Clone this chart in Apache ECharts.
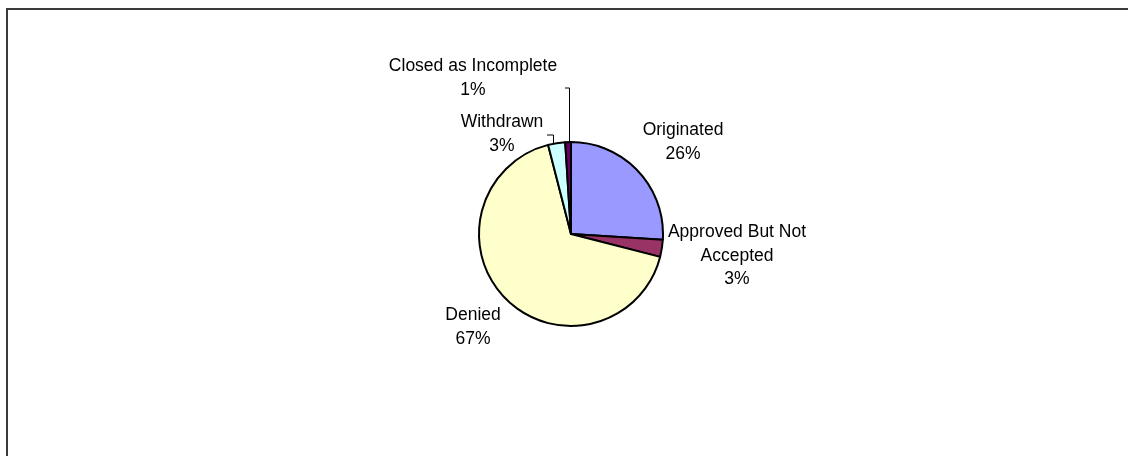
<!DOCTYPE html>
<html>
<head>
<meta charset="utf-8">
<style>
  html, body { margin: 0; padding: 0; background: #fff; }
  #chart { width: 1128px; height: 456px; }
</style>
<script src="https://cdn.jsdelivr.net/npm/echarts@6/dist/echarts.min.js"></script>
</head>
<body>
<div id="chart"></div>
<script>
// Application outcomes, in percent, clockwise from 12 o'clock
const categories = ['Originated', 'Approved But Not\nAccepted', 'Denied', 'Withdrawn', 'Closed as Incomplete'];
const shares = [26, 3, 67, 3, 1];
const sliceColors = ['#9999FF', '#993366', '#FFFFCC', '#CCFFFF', '#660066'];

// Label placement (pixel centres) and leader lines for the two thin slices
const labelSpots = [
  { x: 683, y: 142 },
  { x: 737, y: 256 },
  { x: 473, y: 327 },
  { x: 502, y: 134 },
  { x: 473, y: 78 }
];
const leaderLines = {
  3: [[553.5, 143.5], [553.5, 135], [547, 135]],
  4: [[569.5, 142], [569.5, 88], [565, 88]]
};

const chart = echarts.init(document.getElementById('chart'), null, { renderer: 'canvas' });

chart.setOption({
  animation: false,
  backgroundColor: '#ffffff',
  textStyle: { fontFamily: '"Liberation Sans", Arial, sans-serif' },
  graphic: [{
    type: 'polyline',
    shape: { points: [[7, 460], [7, 9], [1130, 9]] },
    style: { stroke: '#3a3a3a', lineWidth: 2, fill: null },
    silent: true
  }],
  series: [{
    type: 'pie',
    center: [571, 234],
    radius: [0, 92],
    startAngle: 90,
    clockwise: true,
    avoidLabelOverlap: false,
    emphasis: { disabled: true },
    itemStyle: { borderColor: '#000000', borderWidth: 2 },
    label: {
      show: true,
      position: 'outside',
      formatter: '{b}\n{d}%',
      color: '#000000',
      fontSize: 17.5,
      lineHeight: 23.5,
      align: 'center',
      fontFamily: '"Liberation Sans", Arial, sans-serif'
    },
    labelLine: {
      show: true,
      lineStyle: { color: '#000000', width: 1 }
    },
    labelLayout: function (params) {
      const i = params.dataIndex;
      const spot = labelSpots[i];
      const out = { x: spot.x, y: spot.y, align: 'center', verticalAlign: 'middle' };
      if (leaderLines[i]) out.labelLinePoints = leaderLines[i];
      return out;
    },
    data: categories.map((name, i) => ({
      name: name,
      value: shares[i],
      itemStyle: { color: sliceColors[i] },
      labelLine: { show: !!leaderLines[i] }
    }))
  }]
});
</script>
</body>
</html>
